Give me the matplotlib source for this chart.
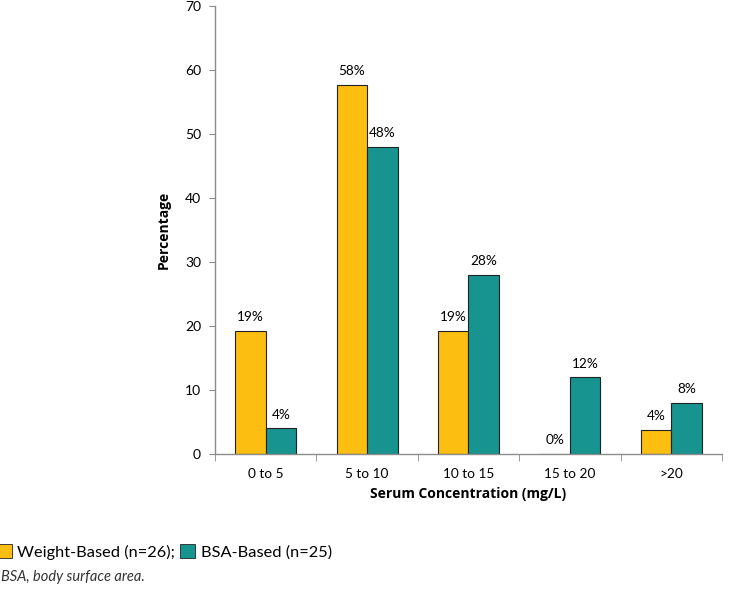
import matplotlib
matplotlib.use("Agg")
import matplotlib.pyplot as plt
from matplotlib.patches import Patch
import numpy as np

categories = ["0 to 5", "5 to 10", "10 to 15", "15 to 20", ">20"]
weight_based = [19.2, 57.7, 19.2, 0.0, 3.8]
bsa_based = [4.0, 48.0, 28.0, 12.0, 8.0]
weight_labels = ["19%", "58%", "19%", "0%", "4%"]
bsa_labels = ["4%", "48%", "28%", "12%", "8%"]

YELLOW = "#FDBE12"
TEAL = "#179490"
AXIS_GREY = "#8c8c8c"

fig = plt.figure(figsize=(7.47, 5.9), dpi=100)
ax = fig.add_axes([0.2878, 0.2305, 0.6787, 0.7593])

x = np.arange(len(categories))
width = 0.3
ax.bar(x - width / 2, weight_based, width, color=YELLOW, edgecolor="#222222", linewidth=0.8)
ax.bar(x + width / 2, bsa_based, width, color=TEAL, edgecolor="#222222", linewidth=0.8)

for xi, v, lab in zip(x, weight_based, weight_labels):
    ax.text(xi - width / 2, v + 1.2, lab, ha="center", va="bottom", fontsize=9.8, family="Lato")
for xi, v, lab in zip(x, bsa_based, bsa_labels):
    ax.text(xi + width / 2, v + 1.2, lab, ha="center", va="bottom", fontsize=9.8, family="Lato")

ax.set_xlim(-0.5, len(categories) - 0.5)
ax.set_ylim(0, 70)
ax.set_yticks(range(0, 71, 10))
ax.set_xticks(x)
ax.set_xticklabels(categories, fontsize=9.8, family="Lato")
ax.set_xticks(np.arange(-0.5, len(categories)), minor=True)
ax.tick_params(axis="x", which="major", length=0, pad=10)
ax.tick_params(axis="x", which="minor", length=5, color=AXIS_GREY, direction="out")
ax.tick_params(axis="y", length=4, color=AXIS_GREY, labelsize=10, pad=6)
for lab in ax.get_yticklabels():
    lab.set_family("Lato")

for side in ("top", "right"):
    ax.spines[side].set_visible(False)
for side in ("left", "bottom"):
    ax.spines[side].set_color(AXIS_GREY)
    ax.spines[side].set_linewidth(1.0)

ax.set_ylabel("Percentage", fontsize=10, fontweight="bold", family="Open Sans", labelpad=10)
ax.set_xlabel("Serum Concentration (mg/L)", fontsize=10, fontweight="bold", family="Open Sans", labelpad=5)

handles = [
    Patch(facecolor=YELLOW, edgecolor="#222222", linewidth=0.6, label="Weight-Based (n=26);"),
    Patch(facecolor=TEAL, edgecolor="#222222", linewidth=0.6, label="BSA-Based (n=25)"),
]
fig.legend(handles=handles, loc="center left", bbox_to_anchor=(-0.004, 1 - 552 / 590), ncol=2,
           frameon=False, handlelength=0.9, handleheight=0.9, handletextpad=0.35,
           columnspacing=0.3, prop={"family": "Lato", "size": 11.8}, borderaxespad=0, borderpad=0)

fig.text(0.002, 1 - 577 / 590, "BSA, body surface area.", ha="left", va="center",
         fontsize=10.5, style="italic", family="Lato", color="#333333")

fig.savefig("out.png", dpi=100)
